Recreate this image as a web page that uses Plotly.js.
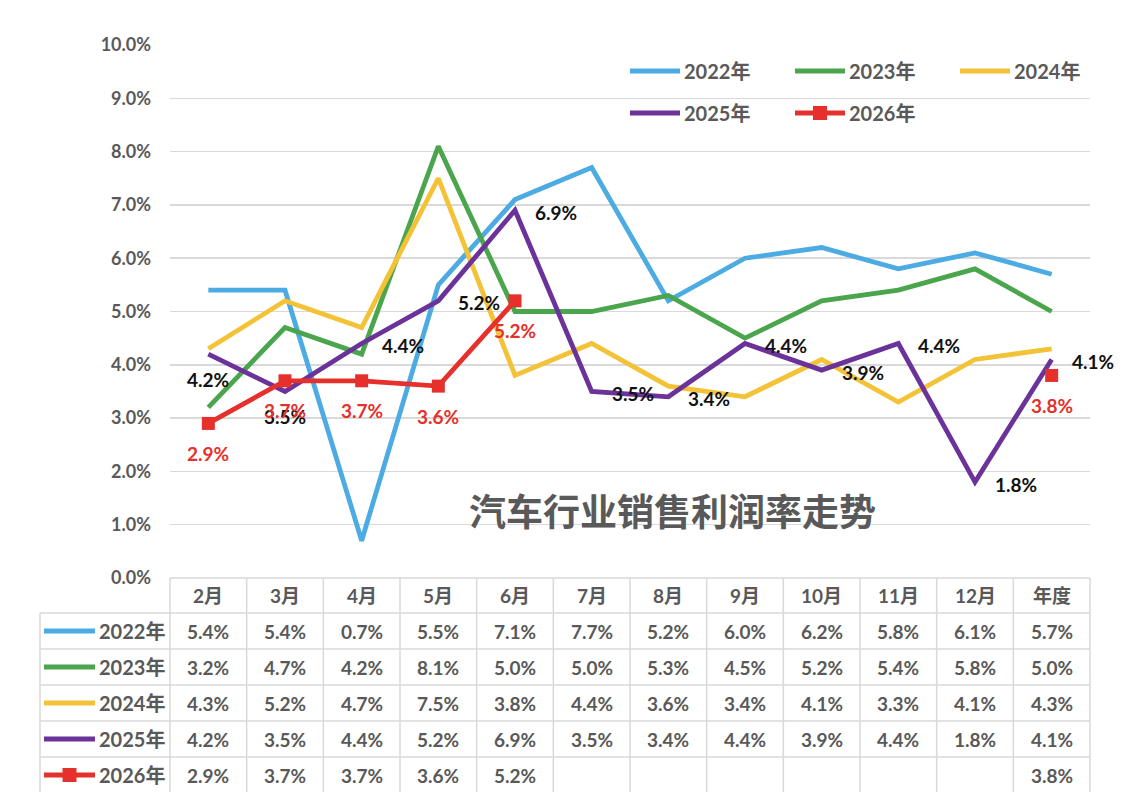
<!DOCTYPE html>
<html>
<head>
<meta charset="utf-8">
<script src="https://cdn.plot.ly/plotly-3.0.1.min.js"></script>
<style>
html, body {margin:0; padding:0; background:#ffffff;}
#chart {width:1132px; height:792px;}
</style>
</head>
<body>
<div id="chart"></div>
<script>
// categories and series (sales profit margin, %)
var months = ['2月','3月','4月','5月','6月','7月','8月','9月','10月','11月','12月','年度'];
var names = ['2022年','2023年','2024年','2025年','2026年'];
var y2022 = [5.4, 5.4, 0.7, 5.5, 7.1, 7.7, 5.2, 6.0, 6.2, 5.8, 6.1, 5.7];
var y2023 = [3.2, 4.7, 4.2, 8.1, 5.0, 5.0, 5.3, 4.5, 5.2, 5.4, 5.8, 5.0];
var y2024 = [4.3, 5.2, 4.7, 7.5, 3.8, 4.4, 3.6, 3.4, 4.1, 3.3, 4.1, 4.3];
var y2025 = [4.2, 3.5, 4.4, 5.2, 6.9, 3.5, 3.4, 4.4, 3.9, 4.4, 1.8, 4.1];
var y2026 = [2.9, 3.7, 3.7, 3.6, 5.2, null, null, null, null, null, null, 3.8];
var yTicks = [0,1,2,3,4,5,6,7,8,9,10];
var chartTitle = '汽车行业销售利润率走势';

// styles
var series = [y2022, y2023, y2024, y2025, y2026];
var colors = ['#4babe2', '#4aa54d', '#f3c237', '#6b3399', '#e5302b'];
var gray = '#595959';
var gridColor = '#d9d9d9';
var fontFam = 'Lato, "Noto Sans CJK SC", sans-serif';
// where the 2025 labels sit: below or right of the point
var pos2025 = ['below','below','right','right','right','right','right','right','right','right','right','right'];

// pixel helpers (plot area 170..1090 x 45..578)
var L = 170, R = 1090, T = 45, B = 578;
function px(x){ return (x - L) / (R - L); }
function py(y){ return (B - y) / (B - T); }

var traces = series.map(function(s, i){
  return {
    type: 'scatter',
    mode: i == 4 ? 'lines+markers' : 'lines',
    x: months,
    y: s,
    name: names[i],
    line: {color: colors[i], width: 4.8},
    marker: {symbol: 'square', size: 13, color: colors[i]},
    connectgaps: false,
    showlegend: false,
    cliponaxis: false,
    hoverinfo: 'x+y+name'
  };
});

var shapes = [];
var annotations = [];

// data labels for 2025 and 2026
y2025.forEach(function(v, j){
  var a = {x: months[j], y: v, xref: 'x', yref: 'y', text: v.toFixed(1) + '%',
    showarrow: false, font: {family: fontFam, size: 19, color: '#111111', weight: 'bold'}};
  if (pos2025[j] == 'below'){ a.xanchor = 'center'; a.yshift = -25; }
  else { a.xanchor = 'left'; a.xshift = 18; a.yshift = -2; }
  annotations.push(a);
});
y2026.forEach(function(v, j){
  if (v == null) return;
  annotations.push({x: months[j], y: v, xref: 'x', yref: 'y', text: v.toFixed(1) + '%',
    showarrow: false, xanchor: 'center', yshift: -30,
    font: {family: fontFam, size: 19, color: colors[4], weight: 'bold'}});
});

// chart title inside the plot
annotations.push({x: px(672), y: py(510), xref: 'paper', yref: 'paper', text: chartTitle,
  showarrow: false, xanchor: 'center', yanchor: 'middle',
  font: {family: '"Noto Sans CJK SC", sans-serif', size: 37, color: gray, weight: 'bold'}});

// legend key (line + optional square) at pixel position
function legendKey(x0, x1, y, i){
  shapes.push({type: 'line', xref: 'paper', yref: 'paper', x0: px(x0), x1: px(x1), y0: py(y), y1: py(y),
    line: {color: colors[i], width: 5}});
  if (i == 4){
    var m = (x0 + x1) / 2;
    shapes.push({type: 'rect', xref: 'paper', yref: 'paper', x0: px(m - 7), x1: px(m + 7), y0: py(y - 7), y1: py(y + 7),
      fillcolor: colors[i], line: {width: 0}});
  }
  annotations.push({x: px(x1 + 2), y: py(y), xref: 'paper', yref: 'paper', text: names[i],
    showarrow: false, xanchor: 'left', yanchor: 'middle',
    font: {family: fontFam, size: 20, color: gray, weight: 'bold'}});
}

// top legend: 3 + 2 items
var legX = [630, 795, 960];
var legY = [71, 113];
names.forEach(function(n, i){
  var c = i % 3, r = Math.floor(i / 3);
  legendKey(legX[c], legX[c] + 50, legY[r], i);
});

// data table under the plot
var colW = (R - L) / months.length;
var rowTop = [578, 613, 649, 685, 721, 757, 793];
var tableLeft = 40;
function hline(y, x0){
  shapes.push({type: 'line', xref: 'paper', yref: 'paper', x0: px(x0), x1: px(R), y0: py(y), y1: py(y),
    line: {color: gridColor, width: 1.5}});
}
function vline(x, y0, y1){
  shapes.push({type: 'line', xref: 'paper', yref: 'paper', x0: px(x), x1: px(x), y0: py(y0), y1: py(y1),
    line: {color: gridColor, width: 1.5}});
}
rowTop.forEach(function(y, k){ hline(y, k == 0 ? L : tableLeft); });
for (var c = 0; c <= months.length; c++) vline(L + c * colW, rowTop[0], rowTop[6]);
vline(tableLeft, rowTop[1], rowTop[6]);

// header row
months.forEach(function(m){
  annotations.push({x: m, y: py((rowTop[0] + rowTop[1]) / 2), xref: 'x', yref: 'paper', text: m,
    showarrow: false, xanchor: 'center', yanchor: 'middle',
    font: {family: fontFam, size: 19, color: gray, weight: 'bold'}});
});
// value rows
series.forEach(function(s, i){
  var yc = (rowTop[i + 1] + rowTop[i + 2]) / 2;
  legendKey(44, 95, yc, i);
  s.forEach(function(v, j){
    if (v == null) return;
    annotations.push({x: months[j], y: py(yc), xref: 'x', yref: 'paper', text: v.toFixed(1) + '%',
      showarrow: false, xanchor: 'center', yanchor: 'middle',
      font: {family: fontFam, size: 19, color: gray, weight: 'bold'}});
  });
});

var layout = {
  width: 1132,
  height: 792,
  margin: {l: L, r: 1132 - R, t: T, b: 792 - B},
  paper_bgcolor: '#ffffff',
  plot_bgcolor: '#ffffff',
  showlegend: false,
  xaxis: {
    type: 'category',
    categoryarray: months,
    range: [-0.5, months.length - 0.5],
    showticklabels: false,
    showgrid: false,
    zeroline: false,
    showline: false,
    fixedrange: true
  },
  yaxis: {
    range: [0, 10],
    tickmode: 'array',
    tickvals: yTicks,
    ticktext: yTicks.map(function(t){ return t.toFixed(1) + '%'; }),
    showgrid: true,
    gridcolor: gridColor,
    gridwidth: 1.5,
    zeroline: false,
    showline: false,
    ticks: '',
    ticklabelstandoff: 18,
    tickfont: {family: fontFam, size: 18, color: gray, weight: 'bold'},
    fixedrange: true
  },
  shapes: shapes,
  annotations: annotations
};

Plotly.newPlot('chart', traces, layout, {displayModeBar: false, staticPlot: true});
</script>
</body>
</html>
